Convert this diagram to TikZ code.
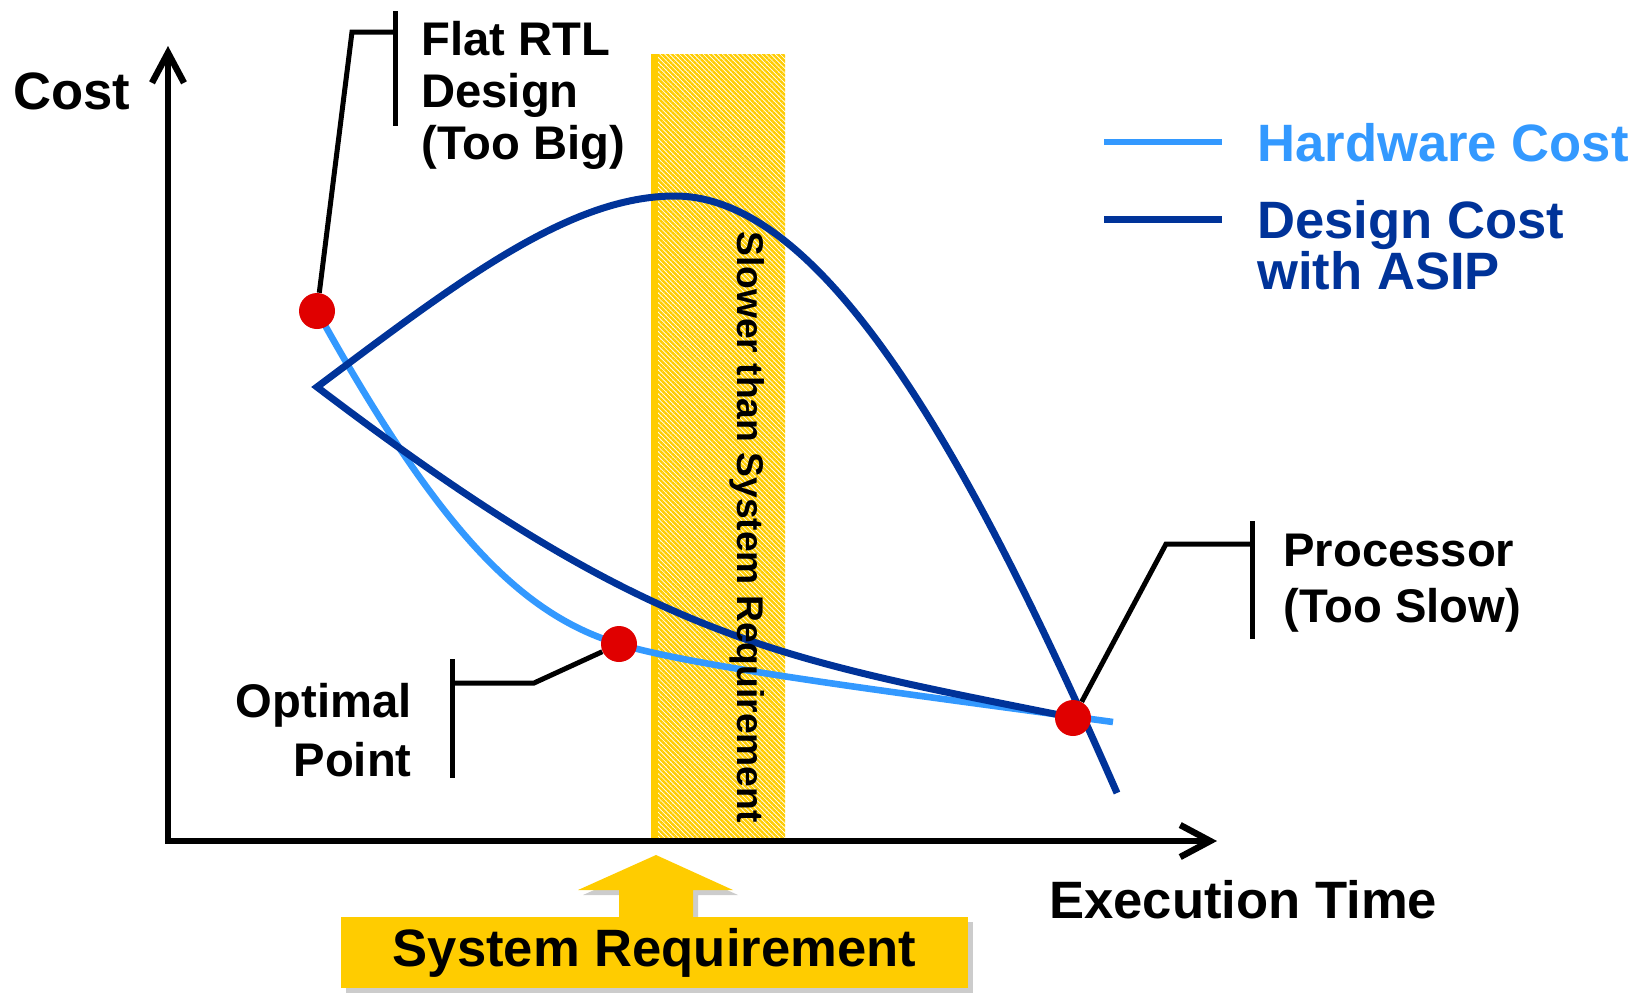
\documentclass[tikz,border=0pt]{standalone}
\usepackage{fontspec}
\setmainfont{Liberation Sans}
\usetikzlibrary{arrows.meta,patterns.meta,shadows}

\definecolor{hwblue}{HTML}{3399FF}
\definecolor{asipblue}{HTML}{003399}
\definecolor{dotred}{HTML}{E00000}
\definecolor{reqyellow}{HTML}{FFCC00}

\begin{document}
\begin{tikzpicture}[x=0.5pt,y=-0.5pt,
  axis/.style={line width=3.2pt,{Straight Barb[length=15pt,width=16pt]}-{Straight Barb[length=15pt,width=16pt]}},
  hwcurve/.style={hwblue,line width=3.3pt},
  asipcurve/.style={asipblue,line width=3.5pt,line join=miter},
  dot/.style={circle,fill=dotred,minimum size=18pt,inner sep=0pt},
  leader/.style={line width=2.5pt},
  small/.style={inner sep=0pt,font=\bfseries\fontsize{23.6}{26}\selectfont},
  big/.style={inner sep=0pt,font=\bfseries\fontsize{26.3}{25.5}\selectfont},
  reqshadow/.style={drop shadow={shadow xshift=2.5pt,shadow yshift=-2.5pt,fill=black!20,opacity=1}}]

  \useasboundingbox (0,0) rectangle (1649,993);

  % band: slower than the requirement
  \fill[pattern={Lines[angle=-45,distance=1.7pt,line width=1.2pt]},pattern color=reqyellow] (651,54) rectangle (785,838);
  \fill[reqyellow] (651,54) rectangle (658,838);

  % cost curves
  \draw[hwcurve] (317,311) .. controls (437,527) and (519,614) .. (619,644)
    .. controls (700,668) and (900,693) .. (1113,722);
  \draw[asipcurve] (1070,717) .. controls (770,657) and (650,640) .. (317,387)
    .. controls (460,280) and (570,196) .. (675,196)
    .. controls (830,196) and (980,480) .. (1117,793);

  \node[rotate=-90,inner sep=0pt,font=\bfseries\fontsize{18.6}{22}\selectfont] (slow) at (747,527) {Slower than System Requirement};

  % axes
  \coordinate (O) at (168,841);
  \coordinate (ytip) at (168,46);
  \coordinate (xtip) at (1217,841);
  \draw[axis] (ytip) -- (O) -- (xtip);
  \node[big,anchor=north west] (cost) at (13,72) {Cost};
  \node[big,anchor=north west] (exec) at (1049,880) {Execution Time};

  % design points
  \node[dot] (rtldot) at (317,311) {};
  \node[dot] (optdot) at (619,644) {};
  \node[dot] (procdot) at (1073,718) {};

  % callouts
  \node[small,anchor=north west,align=left] (rtl) at (421,21) {Flat RTL\\Design\\(Too Big)};
  \coordinate (rtltop) at (395,11);
  \coordinate (rtlbot) at (395,126);
  \coordinate (rtlknee) at (352,32);
  \draw[leader] (rtltop) -- (rtlbot);
  \draw[leader] (rtldot) -- (rtlknee) -- (rtlknee -| rtltop);

  \node[small,anchor=north east,align=right,font=\bfseries\fontsize{23.6}{29.5}\selectfont] (opt) at (412,683) {Optimal\\Point};
  \coordinate (opttop) at (452,659);
  \coordinate (optbot) at (452,778);
  \coordinate (optknee) at (534,683);
  \draw[leader] (opttop) -- (optbot);
  \draw[leader] (optdot) -- (optknee) -- (optknee -| opttop);

  \node[small,anchor=north west,align=left,font=\bfseries\fontsize{23.6}{28}\selectfont] (proc) at (1283,534) {Processor\\(Too Slow)};
  \coordinate (proctop) at (1252,521);
  \coordinate (procbot) at (1252,639);
  \coordinate (procknee) at (1166,544);
  \draw[leader] (proctop) -- (procbot);
  \draw[leader] (procdot) -- (procknee) -- (procknee -| proctop);

  % legend
  \draw[hwcurve] (1104,142) -- (1222,142);
  \node[big,hwblue,anchor=north west] (hwkey) at (1257,123) {Hardware Cost};
  \draw[asipcurve] (1104,219) -- (1222,219);
  \node[big,asipblue,anchor=north west,align=left] (asipkey) at (1257,200) {Design Cost\\with ASIP};

  % system requirement
  \fill[reqyellow,reqshadow] (619,917) -- (619,890) -- (578,890) -- (656,855) -- (733,890) -- (693,890) -- (693,917) -- cycle;
  \node[big,fill=reqyellow,reqshadow,minimum width=313.5pt,minimum height=35.5pt] (req) at (654.5,952.5) {System Requirement};

\end{tikzpicture}
\end{document}
